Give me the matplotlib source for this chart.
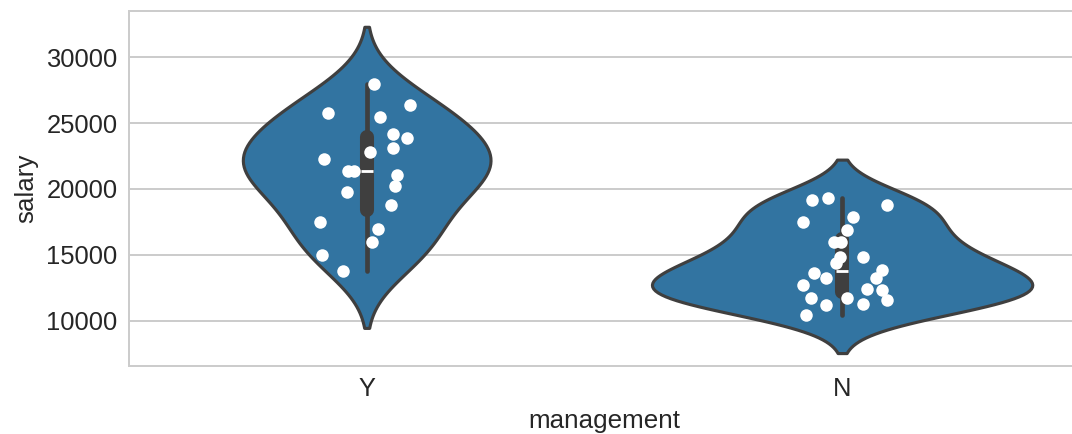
import numpy as np
import pandas as pd
import matplotlib
matplotlib.use('Agg')
import matplotlib.pyplot as plt
import seaborn as sns

# salaries, per management group
y_salary = [27955, 26340, 25735, 25455, 24190, 23864, 23130, 22830, 22270, 21400,
            21400, 21040, 20227, 19750, 18765, 17475, 16995, 15960, 14975, 13810]
n_salary = [19166, 19340, 18765, 17880, 17475, 16870, 16000, 15950, 14870, 14820,
            14368, 13660, 13230, 13860, 13230, 12750, 12420, 12350, 11765, 11765,
            11590, 11210, 11290, 10455]

# strip jitter (category units) as seen in the picture
y_jitter = [0.015, 0.092, -0.082, 0.027, 0.055, 0.084, 0.055, 0.006, -0.090, -0.040,
            -0.027, 0.064, 0.059, -0.041, 0.051, -0.098, 0.024, 0.011, -0.094, -0.050]
n_jitter = [-0.063, -0.030, 0.095, 0.023, -0.082, 0.011, -0.017, -0.003, -0.004, 0.043,
            -0.013, -0.059, -0.034, 0.084, 0.072, -0.082, 0.052, 0.084, -0.065, 0.011,
            0.095, -0.034, 0.043, -0.075]

groups = ['Y', 'N']

df = pd.DataFrame({
    'management': ['Y'] * len(y_salary) + ['N'] * len(n_salary),
    'salary': y_salary + n_salary,
})

sns.set_style('whitegrid')
plt.rcParams['font.family'] = ['Liberation Sans', 'DejaVu Sans']
plt.rcParams['font.size'] = 10.2

fig = plt.figure(figsize=(1072 / 180, 434 / 180), dpi=180)
ax = fig.add_axes([0.1203, 0.1567, 0.887, 0.819])

sns.violinplot(data=df, x='management', y='salary', order=groups, color='C0', ax=ax)

# white points on top
ax.scatter(0 + np.array(y_jitter), y_salary, s=25, color='white', linewidth=0, zorder=5)
ax.scatter(1 + np.array(n_jitter), n_salary, s=25, color='white', linewidth=0, zorder=5)

ax.set_xlim(-0.5, 1.5)
ax.set_ylim(6590, 33520)
ax.set_yticks([10000, 15000, 20000, 25000, 30000])
ax.set_xlabel('management', fontsize=10.4, labelpad=3)
ax.set_ylabel('salary', fontsize=10.4, labelpad=3)
ax.tick_params(labelsize=10.2, length=0, pad=4.6)

fig.savefig('out.png', dpi=180)
